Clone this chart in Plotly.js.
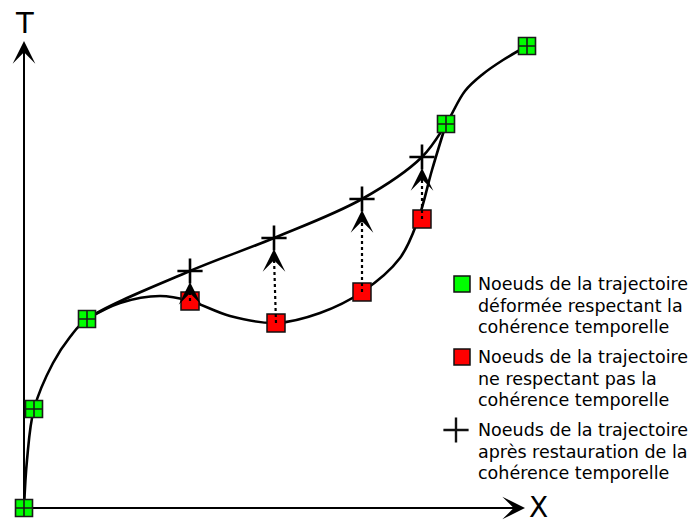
<!DOCTYPE html>
<html>
<head>
<meta charset="utf-8">
<script src="https://cdn.plot.ly/plotly-3.0.1.min.js"></script>
<style>html,body{margin:0;padding:0;background:#fff;}#chart{width:690px;height:525px;}</style>
</head>
<body>
<div id="chart"></div>
<script>
// Nodes (diagram coordinates)
const greenX = [24, 34, 87, 446, 527];
const greenY = [508, 409, 319, 124, 46];
const redX = [190, 276, 362, 422];
const redY = [301, 323, 292, 219];
const crossX = [190, 274, 362, 422];
const crossY = [271, 238, 199, 157];
// Trajectory paths
const pathAX = [24, 27, 34, 53, 70, 87, 190, 274, 362, 422, 446, 465, 483, 503, 527];
const pathAY = [508, 460, 409, 363, 337, 319, 271, 238, 199, 157, 124, 91, 74, 60, 46];
const pathBX = [87, 120, 160, 190, 230, 276, 320, 362, 400, 418, 432, 446];
const pathBY = [319, 303, 296, 301, 316, 323, 313, 292, 258, 220, 170, 124];
// Axes
const originX = 24, originY = 508, axisTopY = 41, axisRightX = 525;
const axisLabels = ['T', 'X'];
// Legend texts
const legendBlocks = [
  ['Noeuds de la trajectoire', 'déformée respectant la', 'cohérence temporelle'],
  ['Noeuds de la trajectoire', 'ne respectant pas la', 'cohérence temporelle'],
  ['Noeuds de la trajectoire', 'après restauration de la', 'cohérence temporelle']
];

const FONT = 'DejaVu Sans, sans-serif';
const traces = [];

// axis lines
traces.push({x: [originX, originX, null, originX, axisRightX - 8], y: [axisTopY + 8, originY, null, originY, originY],
  mode: 'lines', line: {color: '#000', width: 2}, hoverinfo: 'skip', showlegend: false});
// curves
traces.push({x: pathAX, y: pathAY, mode: 'lines', line: {color: '#000', width: 2.6, shape: 'spline', smoothing: 1},
  hoverinfo: 'skip', showlegend: false});
traces.push({x: pathBX, y: pathBY, mode: 'lines', line: {color: '#000', width: 2.6, shape: 'spline', smoothing: 1},
  hoverinfo: 'skip', showlegend: false});
// red nodes
traces.push({x: redX, y: redY, mode: 'markers', marker: {symbol: 'square', size: 18, color: '#ff0000', opacity: 1, line: {color: '#111', width: 1.5}},
  hoverinfo: 'skip', showlegend: false});
// dotted restoration lines
const gap = 11;
const dx = [], dy = [];
redX.forEach((x, i) => { dx.push(x, crossX[i], null); dy.push(redY[i], crossY[i] + gap + 8, null); });
traces.push({x: dx, y: dy, mode: 'lines', line: {color: '#000', width: 2.2, dash: 'dot'}, hoverinfo: 'skip', showlegend: false});
// crosses
traces.push({x: crossX, y: crossY, mode: 'markers', marker: {symbol: 'cross-thin', size: 18, color: '#000', opacity: 1, line: {color: '#000', width: 2.6}},
  hoverinfo: 'skip', showlegend: false});
// green nodes
traces.push({x: greenX, y: greenY, mode: 'markers', marker: {symbol: 'square-cross', size: 17, color: '#00ff00', opacity: 1, line: {color: '#1a1a1a', width: 1.6}},
  hoverinfo: 'skip', showlegend: false});

// legend
const legX = 476, legTop = 284, legBlockStep = 73, legLineStep = 21.5;
traces.push({x: [462, 462, 456], y: [legTop, legTop + legBlockStep, legTop + 2 * legBlockStep],
  mode: 'markers', marker: {symbol: ['square', 'square', 'cross-thin'], size: [16, 16, 18], opacity: 1,
  color: ['#00ff00', '#ff0000', '#000'], line: {color: '#111', width: [1.5, 1.5, 2.4]}}, hoverinfo: 'skip', showlegend: false});

const annotations = [];
// arrowheads
crossX.forEach((x, i) => {
  annotations.push({x: x, y: crossY[i] + gap, ax: x, ay: crossY[i] + gap + 14, xref: 'x', yref: 'y', axref: 'x', ayref: 'y',
    text: '', showarrow: true, arrowhead: 3, arrowsize: 2.1, arrowwidth: 1.8, arrowcolor: '#000'});
});
annotations.push({x: originX, y: axisTopY, ax: originX, ay: axisTopY + 22, xref: 'x', yref: 'y', axref: 'x', ayref: 'y',
  text: '', showarrow: true, arrowhead: 3, arrowsize: 2.1, arrowwidth: 1.8, arrowcolor: '#000'});
annotations.push({x: axisRightX, y: originY, ax: axisRightX - 22, ay: originY, xref: 'x', yref: 'y', axref: 'x', ayref: 'y',
  text: '', showarrow: true, arrowhead: 3, arrowsize: 2.1, arrowwidth: 1.8, arrowcolor: '#000'});
annotations.push({x: originX, y: 23, xref: 'x', yref: 'y', text: axisLabels[0], showarrow: false, font: {family: FONT, size: 29, color: '#000'}});
annotations.push({x: 538, y: 525, xref: 'x', yref: 'y', yanchor: 'bottom', borderpad: 0, text: axisLabels[1], showarrow: false,
  font: {family: FONT, size: 28, color: '#000'}});
legendBlocks.forEach((blk, b) => {
  blk.forEach((line, l) => {
    annotations.push({x: legX, y: legTop + b * legBlockStep + l * legLineStep, xref: 'x', yref: 'y', xanchor: 'left', yanchor: 'middle',
      text: line, showarrow: false, font: {family: FONT, size: 17.5, color: '#000'}});
  });
});

const layout = {
  width: 690, height: 525, margin: {l: 0, r: 0, t: 0, b: 0},
  paper_bgcolor: '#fff', plot_bgcolor: '#fff',
  xaxis: {range: [0, 690], visible: false, fixedrange: true},
  yaxis: {range: [525, 0], visible: false, fixedrange: true},
  annotations: annotations, showlegend: false
};
Plotly.newPlot('chart', traces, layout, {displayModeBar: false, staticPlot: true});
</script>
</body>
</html>
